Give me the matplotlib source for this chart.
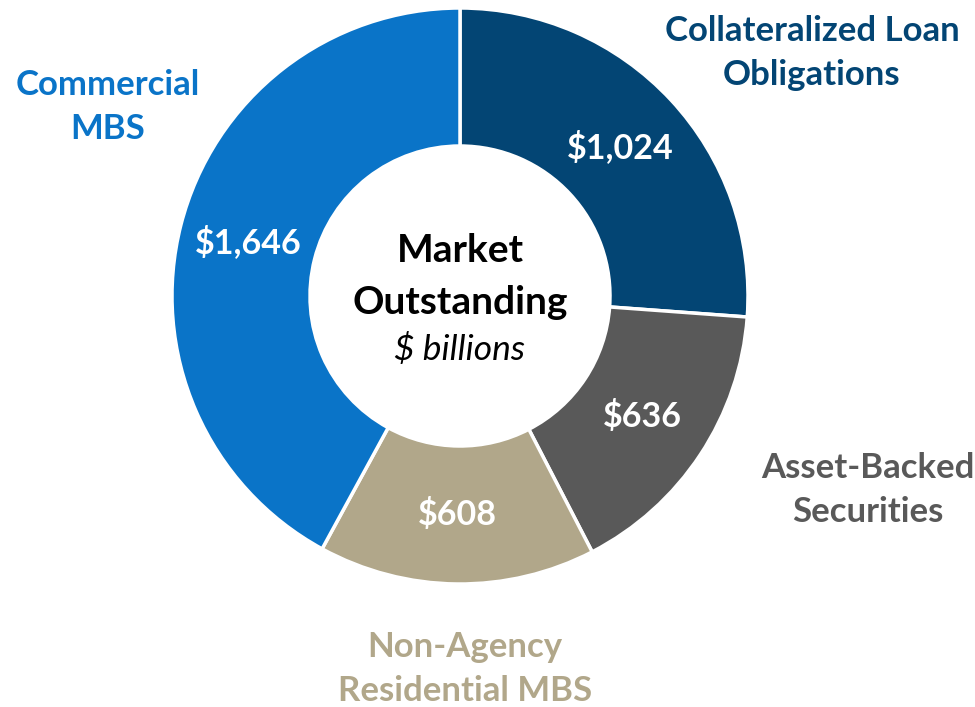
import matplotlib
matplotlib.use("Agg")
import matplotlib.pyplot as plt
import numpy as np

# Market outstanding, $ billions (clockwise from 12 o'clock)
categories = ["Collateralized Loan\nObligations", "Asset-Backed\nSecurities",
              "Non-Agency\nResidential MBS", "Commercial\nMBS"]
values = [1024, 636, 608, 1646]
value_labels = ["\\$1,024", "\\$636", "\\$608", "\\$1,646"]
colors = ["#034574", "#595959", "#B1A78A", "#0A74C8"]

W, H = 975, 707
plt.rcParams["font.family"] = ["Lato", "DejaVu Sans"]

fig = plt.figure(figsize=(W / 100, H / 100), dpi=100)
ax = fig.add_axes((0, 0, 1, 1))

cx, cy = 460, H - 296
r_out, r_in = 288, 150

wedges, _ = ax.pie(
    values,
    colors=colors,
    startangle=90,
    counterclock=False,
    center=(cx, cy),
    radius=r_out,
    wedgeprops=dict(width=r_out - r_in, edgecolor="white", linewidth=2.5),
    frame=True,
)
ax.set_xlim(0, W)
ax.set_ylim(0, H)
ax.set_aspect("equal")
ax.axis("off")

# value labels in the middle of the ring
r_mid = (r_out + r_in) / 2
for w, lab in zip(wedges, value_labels):
    ang = np.deg2rad((w.theta1 + w.theta2) / 2)
    ax.text(cx + r_mid * np.cos(ang), cy + r_mid * np.sin(ang), lab,
            ha="center", va="center", color="white", fontsize=24.5,
            fontweight="bold")

# category labels outside the ring
label_pos = [(812, 53), (868, 490), (465, 669), (108, 107)]
for (x, y), cat, col in zip(label_pos, categories, colors):
    ax.text(x, H - y, cat, ha="center", va="center", color=col,
            fontsize=25, fontweight="bold", linespacing=1.45)

# center caption
ax.text(cx, H - 250, "Market", ha="center", va="center", fontsize=28,
        fontweight="bold", color="black")
ax.text(cx, H - 302, "Outstanding", ha="center", va="center", fontsize=28,
        fontweight="bold", color="black")
ax.text(cx, H - 350, "\\$ billions", ha="center", va="center", fontsize=25.5,
        style="italic", color="black")

fig.savefig("out.png", dpi=100, facecolor="white")
